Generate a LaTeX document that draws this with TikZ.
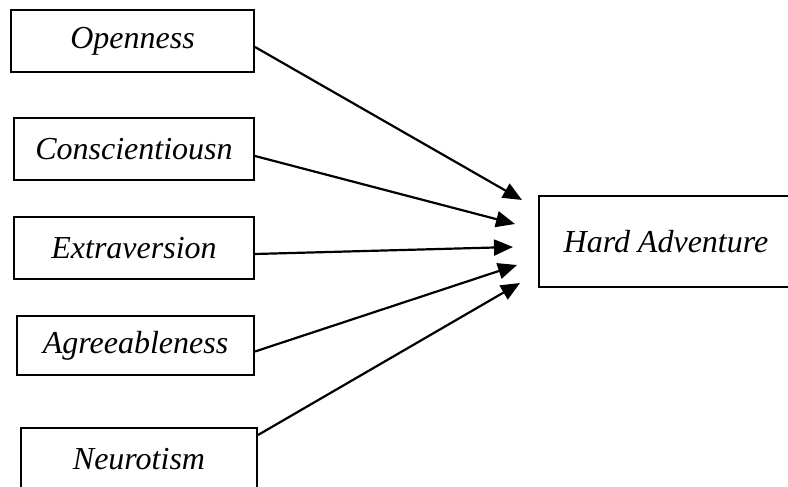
\documentclass[tikz,border=0pt]{standalone}
\usepackage{fontspec}
\setmainfont{Liberation Serif}
\usetikzlibrary{arrows.meta}
\tikzstyle{factorbox}=[rectangle,draw=black,line width=2pt,anchor=east,
                       minimum height=62pt,inner sep=0pt,
                       font=\fontsize{32}{38}\selectfont\itshape]
\tikzstyle{effect}=[line width=2.2pt,-{Triangle[length=19pt,width=16pt]}]
\begin{document}
\begin{tikzpicture}[x=1pt,y=-1pt]
    \useasboundingbox (0,0) rectangle (788,487);
    \node (f1) at (255,41) [factorbox,minimum width=243pt]{Openness};
    \node (f2) at (255,149) [factorbox,minimum width=240pt]{Conscientiousn};
    \node (f3) at (255,248) [factorbox,minimum width=240pt]{Extraversion};
    \node (f4) at (255,345.5) [factorbox,minimum width=237pt,minimum height=59pt]{Agreeableness};
    \node (f5) at (258,459) [factorbox,minimum width=236pt]{Neurotism};
    \node (hard) at (794,241.5) [factorbox,minimum width=254pt,minimum height=91pt]{Hard Adventure};
    \coordinate (t1) at (522,200);
    \coordinate (t2) at (515,224);
    \coordinate (t3) at (513,247);
    \coordinate (t4) at (517,265);
    \coordinate (t5) at (520,283);
    \draw[effect] ([yshift=-6pt]f1.east) -- (t1);
    \draw[effect] ([yshift=-7pt]f2.east) -- (t2);
    \draw[effect] ([yshift=-6pt]f3.east) -- (t3);
    \draw[effect] ([yshift=-6pt]f4.east) -- (t4);
    \draw[effect] ([yshift=24pt]f5.east) -- (t5);
\end{tikzpicture}
\end{document}
